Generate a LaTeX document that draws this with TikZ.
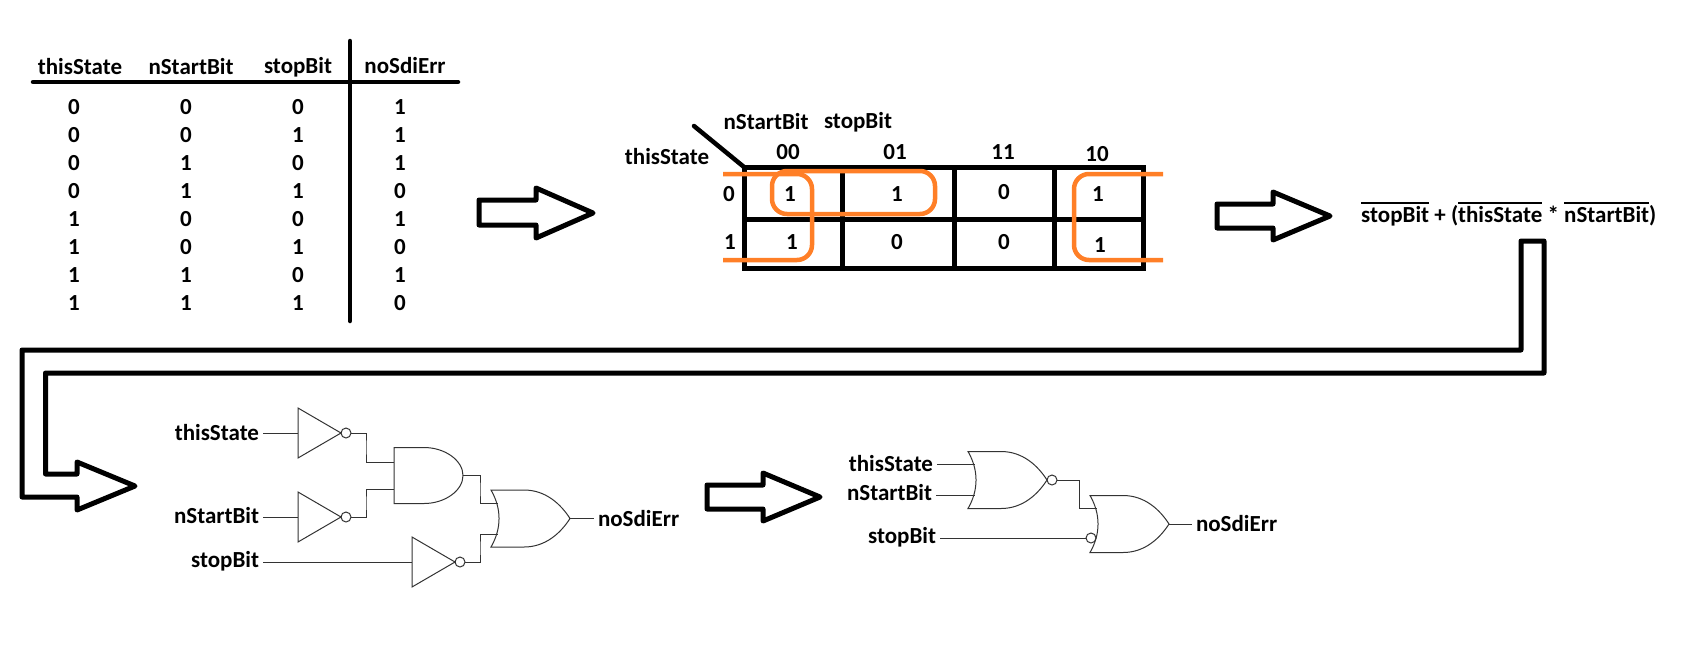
\documentclass[tikz,border=0pt]{standalone}
\usepackage{fontspec,amsmath}
\setmainfont{Carlito}
\usetikzlibrary{positioning,calc}
\definecolor{loop}{HTML}{FF7F27}
\newcommand{\ovl}[1]{\vbox{\hrule height 2.2pt\kern 2pt\hbox{#1}}}
\tikzset{lbl/.style={font=\bfseries\fontsize{23}{27}\selectfont,inner sep=0pt},pin/.style={lbl,outer sep=4pt},cols/.style={lbl,align=center,font=\bfseries\fontsize{23}{28}\selectfont},rulebar/.style={line width=4.5pt,line cap=round},grid/.style={line width=5pt},blockarr/.style={draw,line width=5pt,line join=round},loopline/.style={draw=loop,line width=4.5pt,rounded corners=15pt},wire/.style={line width=1pt,black!80},
pics/notgate/.style={code={\draw[wire] (0,-25)--(43,0)--(0,25)--cycle (48,0) circle (5); \coordinate (-in) at (0,0); \coordinate (-out) at (53,0);}},
pics/andgate/.style={code={\draw[wire] (0,-28)--(30,-28) .. controls (51,-28) and (69,-15) .. (69,0) .. controls (69,15) and (51,28) .. (30,28)--(0,28)--cycle; \coordinate (-a) at (0,-13.5); \coordinate (-b) at (0,13.5); \coordinate (-out) at (69,0);}},
pics/orgate/.style={code={\draw[wire] (0,-28.5) .. controls (10.7,-10) and (10.7,10) .. (0,28.5)--(33,28.5) .. controls (55,28.5) and (70,14) .. (79,0) .. controls (70,-14) and (55,-28.5) .. (33,-28.5)--cycle; \coordinate (-a) at (7,-15.5); \coordinate (-b) at (7,15.5); \coordinate (-out) at (79,0);}}}
\begin{document}
\begin{tikzpicture}[x=1pt,y=-1pt]
\useasboundingbox (0,0) rectangle (1691,654);

\node[lbl] (hState) at (80,67) {thisState};
\node[lbl] (hStart) at (191,67) {nStartBit};
\node[lbl] (hStop) at (298,67) {stopBit};
\node[lbl] (hErr) at (405,66) {noSdiErr};
\draw[rulebar] (33,82)--(458,82);
\draw[rulebar] (350,41)--(350,321);
\node[cols] (colState) at (74,205) {0\\0\\0\\0\\1\\1\\1\\1};
\node[cols] (colStart) at (186,205) {0\\0\\1\\1\\0\\0\\1\\1};
\node[cols] (colStop) at (298,205) {0\\1\\0\\1\\0\\1\\0\\1};
\node[cols] (colErr) at (400,205) {1\\1\\1\\0\\1\\0\\1\\0};
\draw[blockarr] (479,200)--(536,200)--(536,188)--(593,213)--(536,238)--(536,225)--(479,225)--cycle;

\node[lbl] (kmStart) at (766,122) {nStartBit};
\node[lbl] (kmStop) at (858,122) {stopBit};
\node[lbl] (kmState) at (667,157) {thisState};
\node[lbl] (k00) at (788,152) {00};
\node[lbl] (k01) at (895,152) {01};
\node[lbl] (k11) at (1003,152) {11};
\node[lbl] (k10) at (1097,154) {10};
\node[lbl] (r0) at (729,194) {0};
\node[lbl] (r1) at (730,242) {1};
\node[lbl] (c00) at (790,194) {1}; \node[lbl] (c01) at (897,194) {1}; \node[lbl] (c11) at (1004,192) {0}; \node[lbl] (c10) at (1098,194) {1};
\node[lbl] (d00) at (792,242) {1}; \node[lbl] (d01) at (897,242) {0}; \node[lbl] (d11) at (1004,242) {0}; \node[lbl] (d10) at (1100,245) {1};
\draw[grid] (744,167) rectangle (1143,268);
\draw[grid] (744,219)--(1143,219);
\draw[grid] (842,167)--(842,268); \draw[grid] (954,167)--(954,268); \draw[grid] (1054,167)--(1054,268);
\draw[line width=4.5pt,line cap=round] (694,126)--(744,167);
\draw[loopline] (723,174)--(812,174)--(812,260)--(723,260);
\draw[loopline] (772,171) rectangle (935,214);
\draw[loopline] (1163,174)--(1074,174)--(1074,260)--(1163,260);
\draw[blockarr] (1217,204)--(1273,204)--(1273,192)--(1330,216)--(1273,240)--(1273,228)--(1217,228)--cycle;

\node[lbl,anchor=base west] (formula) at (1361,222) {\ovl{stopBit} + (\ovl{thisState} * \ovl{nStartBit})};
\draw[blockarr] (1521,241)--(1544,241)--(1544,373)--(45.5,373)--(45.5,474)--(77,474)--(77,462)--(135,486)--(77,510)--(77,497)--(22,497)--(22,350)--(1521,350)--cycle;

\node[pin,anchor=east] (inState) at (263,432.5) {thisState};
\node[pin,anchor=east] (inStart) at (263,516) {nStartBit};
\node[pin,anchor=east] (inStop) at (263,561) {stopBit};
\pic (notState) at (298,433) {notgate};
\pic (notStart) at (298,517) {notgate};
\pic (notStop) at (412,562) {notgate};
\pic (andG) at (394,475.5) {andgate};
\pic (orG) at (491,518.5) {orgate};
\node[pin,anchor=west] (outErr) at (594,518.5) {noSdiErr};
\draw[wire] (inState.east |- notState-in)--(notState-in);
\draw[wire] (inStart.east |- notStart-in)--(notStart-in);
\draw[wire] (inStop.east |- notStop-in)--(notStop-in);
\draw[wire] (notState-out)-|($(notState-out)+(15,14)$)|-(andG-a);
\draw[wire] (notStart-out)-|($(notStart-out)+(15,-14)$)|-(andG-b);
\draw[wire] (andG-out)-|($(andG-out)+(17,14)$)|-(orG-a);
\draw[wire] (notStop-out)-|($(notStop-out)+(15,-14)$)|-(orG-b);
\draw[wire] (orG-out)--(outErr);
\draw[blockarr] (707,485)--(763,485)--(763,473)--(820,497)--(763,521)--(763,509)--(707,509)--cycle;

\node[pin,anchor=east] (in2State) at (937,464) {thisState};
\node[pin,anchor=east] (in2Start) at (936,493) {nStartBit};
\node[pin,anchor=east] (in2Stop) at (940,537) {stopBit};
\pic (norG) at (968,480) {orgate};
\draw[wire] (1052,480) circle (5);
\pic (norH) at (1090,524) {orgate};
\draw[wire] (1091,538) circle (5);
\coordinate (norGout) at (1057,480);
\coordinate (norHstop) at (1086,538);
\node[pin,anchor=west] (out2Err) at (1192,524) {noSdiErr};
\draw[wire] (in2State.east |- norG-a)--(norG-a);
\draw[wire] (in2Start.east |- norG-b)--(norG-b);
\draw[wire] (in2Stop.east |- norHstop)--(norHstop);
\draw[wire] (norGout)-|($(norGout)+(22,14)$)|-(norH-a);
\draw[wire] (norH-out)--(out2Err);
\end{tikzpicture}
\end{document}
